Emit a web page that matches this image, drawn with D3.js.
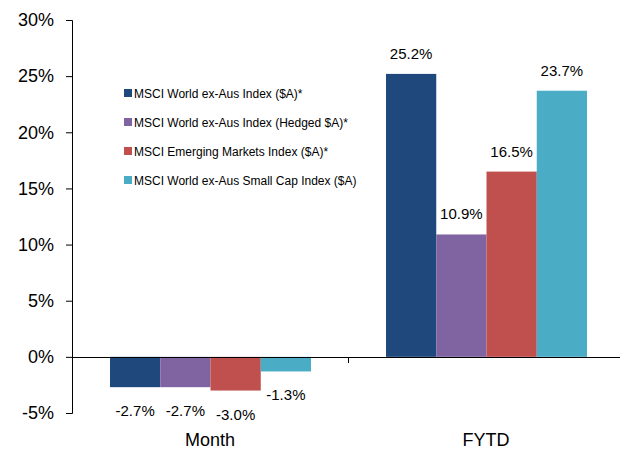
<!DOCTYPE html>
<html><head><meta charset="utf-8">
<script src="https://cdn.jsdelivr.net/npm/d3@7"></script>
<style>body{margin:0;background:#fff}svg{display:block}text{font-family:"Liberation Sans",Arial,sans-serif;fill:#000}</style>
</head><body>
<svg id="c" width="620" height="450"></svg>
<script>
const categories = ["Month", "FYTD"];
const series = ["MSCI World ex-Aus Index ($A)*", "MSCI World ex-Aus Index (Hedged $A)*", "MSCI Emerging Markets Index ($A)*", "MSCI World ex-Aus Small Cap Index ($A)"];
const colors = ["#1F497D", "#8064A2", "#C0504D", "#4BACC6"];
const monthValues = [-2.7, -2.7, -3.0, -1.3];
const fytdValues = [25.2, 10.9, 16.5, 23.7];
const yTicks = [-5, 0, 5, 10, 15, 20, 25, 30];

const values = [monthValues, fytdValues];
const svg = d3.select("#c");
const y = d3.scaleLinear().domain([-5, 30]).range([413, 20]);
const x0 = d3.scaleBand().domain(categories).range([72, 624]).paddingInner(0).paddingOuter(0);
const x1 = d3.scaleBand().domain(d3.range(series.length)).range([38, x0.bandwidth() - 37]).padding(0);

// y axis
const yAxis = d3.axisLeft(y).tickValues(yTicks).tickFormat(d => d + "%").tickSize(6).tickPadding(12);
const gy = svg.append("g").attr("transform", "translate(72,0)").call(yAxis);
gy.select(".domain").attr("stroke", "#000").attr("d", "M-6,20.5H0.5V413.5H-6");
gy.selectAll(".tick line").attr("stroke", "#000");
gy.selectAll(".tick text").style("font-size", "18px").style("font-family", "Liberation Sans, Arial, sans-serif").attr("fill", "#000");

// bars
categories.forEach((c, ci) => {
  const g = svg.append("g").attr("transform", `translate(${x0(c)},0)`);
  values[ci].forEach((v, si) => {
    g.append("rect")
      .attr("x", x1(si)).attr("width", x1.bandwidth())
      .attr("y", y(Math.max(0, v))).attr("height", Math.abs(y(v) - y(0)))
      .attr("fill", colors[si]);
    g.append("text")
      .attr("x", x1(si) + x1.bandwidth() / 2)
      .attr("y", v >= 0 ? y(v) - 15 : y(v) + 29)
      .attr("text-anchor", "middle").style("font-size", "15px")
      .text(v.toFixed(1) + "%");
  });
});

// x axis
svg.append("line").attr("x1", 72).attr("x2", 620).attr("y1", 357.5).attr("y2", 357.5).attr("stroke", "#000");
svg.append("line").attr("x1", 348.5).attr("x2", 348.5).attr("y1", 357).attr("y2", 363).attr("stroke", "#000");
categories.forEach(c => {
  svg.append("text").attr("x", x0(c) + x0.bandwidth() / 2).attr("y", 446)
    .attr("text-anchor", "middle").style("font-size", "18px").text(c);
});

// legend
const lg = svg.append("g").attr("transform", "translate(124,93)");
series.forEach((s, i) => {
  const r = lg.append("g").attr("transform", `translate(0,${i * 29})`);
  r.append("rect").attr("x", 0).attr("y", -4).attr("width", 8).attr("height", 8).attr("fill", colors[i]);
  r.append("text").attr("x", 10).attr("y", 4.5).style("font-size", "12px").text(s);
});
</script>
</body></html>
